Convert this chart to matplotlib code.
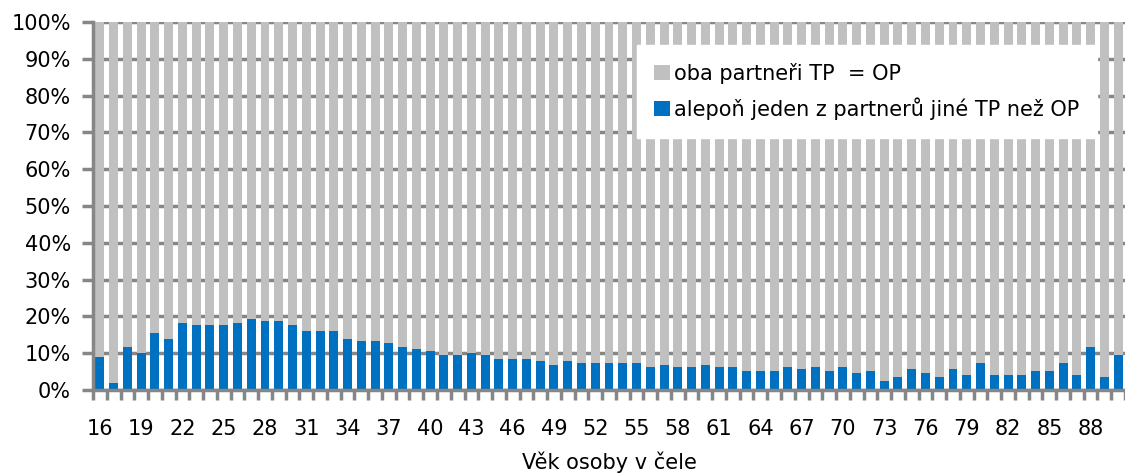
import numpy as np
import matplotlib.pyplot as plt
from matplotlib.patches import Patch

plt.rcParams['font.family'] = ['DejaVu Sans']

# ages 16..90
ages = list(range(16, 91))

# share (%) of couples where at least one partner has a different residence (blue)
jine_tp = [9.0, 1.9, 11.7, 10.1, 15.5, 13.9, 18.3, 17.7, 17.7, 17.7,
           18.3, 19.4, 18.8, 18.8, 17.7, 16.1, 16.1, 16.1, 13.9, 13.4,
           13.4, 12.8, 11.7, 11.2, 10.6, 9.5, 9.5, 10.1, 9.5, 8.5,
           8.5, 8.5, 7.9, 6.8, 7.9, 7.4, 7.4, 7.4, 7.4, 7.4,
           6.3, 6.8, 6.3, 6.3, 6.8, 6.3, 6.3, 5.2, 5.2, 5.2,
           6.3, 5.7, 6.3, 5.2, 6.3, 4.6, 5.2, 2.5, 3.5, 5.7,
           4.6, 3.5, 5.7, 4.1, 7.4, 4.1, 4.1, 4.1, 5.2, 5.2,
           7.4, 4.1, 11.7, 3.5, 9.5]
# remainder: both partners with residence = OP (grey)
stejne_tp = [100 - v for v in jine_tp]

labels = ["oba partneři TP  = OP", "alepoň jeden z partnerů jiné TP než OP"]
gray = "#C0C0C0"
blue = "#0070C0"
axis_col = "#868686"
fs = 15

fig = plt.figure(figsize=(11.25, 4.73), dpi=100)
ax = fig.add_axes([93 / 1125, 1 - 390 / 473, 1 - 93 / 1125, (390 - 22) / 473])

x = np.arange(len(ages))
ax.bar(x, jine_tp, width=0.65, color=blue, zorder=3)
ax.bar(x, stejne_tp, bottom=jine_tp, width=0.65, color=gray, zorder=3)

ax.set_ylim(0, 100)
ax.set_xlim(-0.5, 74.1)
ax.set_yticks(np.arange(0, 101, 10))
ax.set_yticklabels([f"{v}%" for v in range(0, 101, 10)], fontsize=fs)
ax.yaxis.grid(True, color=axis_col, linewidth=2.5, zorder=0)
ax.set_axisbelow(True)

# labels every third age, category boundaries as tick marks
ax.set_xticks(x[::3])
ax.set_xticklabels([str(a) for a in ages[::3]], fontsize=fs)
ax.set_xticks(np.arange(-0.5, len(ages), 1.0), minor=True)
ax.tick_params(axis='x', which='major', length=0, pad=21)
ax.tick_params(axis='x', which='minor', length=7, width=2.5, color=axis_col)
ax.tick_params(axis='y', length=8, width=2.5, color=axis_col, pad=8)

for s in ['top', 'right']:
    ax.spines[s].set_visible(False)
for s in ['left', 'bottom']:
    ax.spines[s].set_color(axis_col)
    ax.spines[s].set_linewidth(2.5)
    ax.spines[s].set_zorder(4)

ax.set_xlabel("Věk osoby v čele", fontsize=fs, labelpad=9)

handles = [Patch(facecolor=gray, label=labels[0]), Patch(facecolor=blue, label=labels[1])]
leg = ax.legend(handles=handles, loc='upper right', bbox_to_anchor=(0.973, 0.9375),
                fontsize=fs, frameon=True, fancybox=False, framealpha=1,
                edgecolor='white', handlelength=0.75, handleheight=0.75,
                handletextpad=0.2, labelspacing=0.65, borderpad=0.85,
                borderaxespad=0)
leg.set_zorder(5)

plt.savefig('out.png', dpi=100)
